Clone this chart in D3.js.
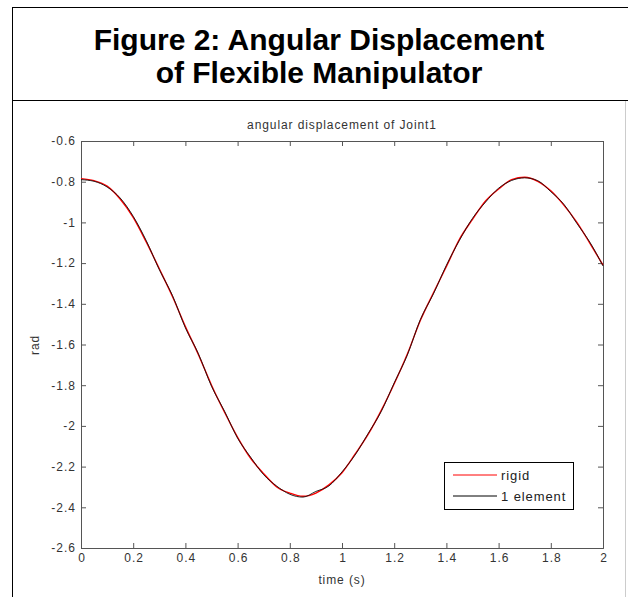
<!DOCTYPE html>
<html>
<head>
<meta charset="utf-8">
<script src="https://cdn.jsdelivr.net/npm/d3@7"></script>
<style>
  body { margin: 0; background: #fff; }
  svg { display: block; }
  .tick text { font-family: "Liberation Sans", Arial, sans-serif; font-size: 12px; letter-spacing: 1px; fill: #333; }
</style>
</head>
<body>
<svg width="628" height="597"></svg>
<script>
// time samples (s)
const time = [0, 0.05, 0.1, 0.15, 0.2, 0.25, 0.3, 0.35, 0.4, 0.45, 0.5, 0.55, 0.6, 0.65, 0.7, 0.75, 0.8, 0.85, 0.9, 0.95,
  1, 1.05, 1.1, 1.15, 1.2, 1.25, 1.3, 1.35, 1.4, 1.45, 1.5, 1.55, 1.6, 1.65, 1.7, 1.75, 1.8, 1.85, 1.9, 1.95, 2];

// angular displacement of joint 1 (rad)
const rigid = [-0.785, -0.795, -0.822, -0.885, -0.975, -1.096, -1.228, -1.363, -1.512, -1.65, -1.80, -1.933, -2.056, -2.159, -2.235, -2.30, -2.33, -2.346, -2.33, -2.29,
  -2.23, -2.139, -2.042, -1.925, -1.793, -1.648, -1.482, -1.347, -1.216, -1.083, -0.985, -0.895, -0.836, -0.79, -0.778, -0.798, -0.845, -0.915, -1.0, -1.103, -1.21];
const oneElement = [-0.79, -0.798, -0.826, -0.88, -0.97, -1.09, -1.232, -1.358, -1.518, -1.646, -1.805, -1.928, -2.06, -2.154, -2.24, -2.296, -2.336, -2.35, -2.322, -2.295,
  -2.226, -2.143, -2.038, -1.93, -1.789, -1.653, -1.478, -1.352, -1.211, -1.088, -0.98, -0.9, -0.832, -0.794, -0.781, -0.795, -0.849, -0.911, -1.005, -1.098, -1.214];

const xTicks = [0, 0.2, 0.4, 0.6, 0.8, 1, 1.2, 1.4, 1.6, 1.8, 2];
const yTicks = [-0.6, -0.8, -1, -1.2, -1.4, -1.6, -1.8, -2, -2.2, -2.4, -2.6];
const legendLabels = ["rigid", "1 element"];

const svg = d3.select("svg");

// outer figure frame
svg.append("line").attr("x1", 12.5).attr("x2", 12.5).attr("y1", 7).attr("y2", 597).attr("stroke", "#000");
svg.append("line").attr("x1", 12).attr("x2", 628).attr("y1", 7.5).attr("y2", 7.5).attr("stroke", "#000");
svg.append("line").attr("x1", 12).attr("x2", 628).attr("y1", 100.5).attr("y2", 100.5).attr("stroke", "#000");
svg.append("line").attr("x1", 625.5).attr("x2", 625.5).attr("y1", 101).attr("y2", 597).attr("stroke", "#ccc");

const title = svg.append("text")
  .attr("text-anchor", "middle")
  .attr("font-family", "Liberation Sans, Arial, sans-serif")
  .attr("font-weight", "bold")
  .attr("font-size", 30);
title.append("tspan").attr("x", 319).attr("y", 50).text("Figure 2: Angular Displacement");
title.append("tspan").attr("x", 319).attr("y", 83).text("of Flexible Manipulator");

const plotLeft = 81, plotRight = 603, plotTop = 141, plotBottom = 548;
const x = d3.scaleLinear().domain([0, 2]).range([plotLeft, plotRight]);
const y = d3.scaleLinear().domain([-2.6, -0.6]).range([plotBottom, plotTop]);

const axisColor = "#555";
const plain = d => String(d);

// axes with inward ticks
const gx = svg.append("g").attr("transform", `translate(0,${plotBottom})`)
  .call(d3.axisBottom(x).tickValues(xTicks).tickSize(-5).tickPadding(9).tickFormat(plain));
const gxTop = svg.append("g").attr("transform", `translate(0,${plotTop})`)
  .call(d3.axisTop(x).tickValues(xTicks).tickSize(-5).tickFormat(""));
const gy = svg.append("g").attr("transform", `translate(${plotLeft},0)`)
  .call(d3.axisLeft(y).tickValues(yTicks).tickSize(-5).tickPadding(5).tickFormat(plain));
const gyRight = svg.append("g").attr("transform", `translate(${plotRight},0)`)
  .call(d3.axisRight(y).tickValues(yTicks).tickSize(-5).tickFormat(""));

[gx, gxTop, gy, gyRight].forEach(g => {
  g.select(".domain").attr("stroke", axisColor);
  g.selectAll(".tick line").attr("stroke", axisColor);
});
gx.selectAll(".tick text").attr("dy", "0.45em").attr("dx", "0.5px");

// curves
const line = d3.line().x((d, i) => x(time[i])).y(d => y(d)).curve(d3.curveMonotoneX);
svg.append("path").datum(rigid).attr("d", line)
  .attr("fill", "none").attr("stroke", "#f00").attr("stroke-width", 1.4);
svg.append("path").datum(oneElement).attr("d", line)
  .attr("fill", "none").attr("stroke", "#111").attr("stroke-width", 0.9);

// labels
const label = (sel) => sel.attr("font-family", "Liberation Sans, Arial, sans-serif")
  .attr("font-size", 12).attr("letter-spacing", 0.9).attr("fill", "#333");
svg.append("text").attr("x", (plotLeft + plotRight) / 2).attr("y", 129)
  .attr("text-anchor", "middle").call(label).text("angular displacement of Joint1");
svg.append("text").attr("x", (plotLeft + plotRight) / 2).attr("y", 584)
  .attr("text-anchor", "middle").call(label).text("time (s)");
svg.append("text").attr("transform", "translate(39,345) rotate(-90)")
  .attr("text-anchor", "middle").call(label).text("rad");

// legend
const legend = svg.append("g").attr("transform", "translate(444,462)");
legend.append("rect").attr("x", 0.5).attr("y", 0.5).attr("width", 129).attr("height", 47)
  .attr("fill", "#fff").attr("stroke", "#000");
const legendColors = ["#f00", "#000"];
legendLabels.forEach((name, i) => {
  const ly = 13 + i * 21;
  legend.append("line").attr("x1", 9).attr("x2", 53).attr("y1", ly).attr("y2", ly)
    .attr("stroke", legendColors[i]).attr("stroke-width", 1);
  legend.append("text").attr("x", 57).attr("y", ly + 5)
    .attr("font-family", "Liberation Sans, Arial, sans-serif").attr("font-size", 13)
    .attr("letter-spacing", 0.9).attr("fill", "#222").text(name);
});
</script>
</body>
</html>
